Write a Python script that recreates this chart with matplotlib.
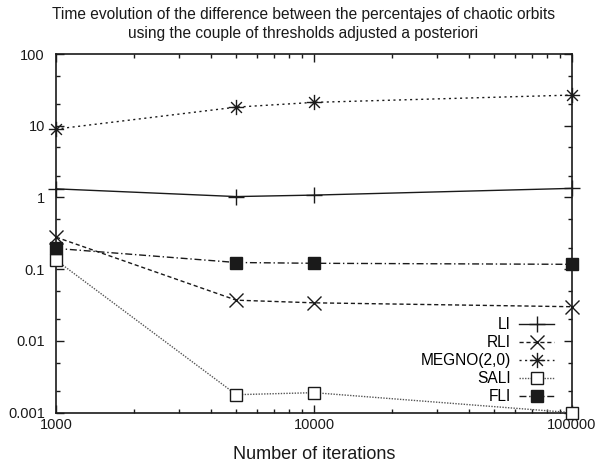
import numpy as np
import matplotlib
matplotlib.use("Agg")
import matplotlib.pyplot as plt
from matplotlib.path import Path
from matplotlib.ticker import FixedLocator, FixedFormatter, NullFormatter

plt.rcParams["font.family"] = ["Liberation Sans", "DejaVu Sans"]

iterations = [1000, 5000, 10000, 100000]
li = [1.32, 1.03, 1.08, 1.34]
rli = [0.28, 0.037, 0.034, 0.030]
megno = [9.0, 18.2, 21.2, 26.8]
sali = [0.134, 0.00178, 0.0019, 0.001]
fli = [0.195, 0.124, 0.121, 0.117]

x_ticks = [1000, 10000, 100000]
x_labels = ["1000", "10000", "100000"]
y_ticks = [0.001, 0.01, 0.1, 1, 10, 100]
y_labels = ["0.001", "0.01", "0.1", "1", "10", "100"]

title = ("Time evolution of the difference between the percentajes of chaotic orbits\n"
         "using the couple of thresholds adjusted a posteriori")

# asterisk marker: '+' and 'x' together, like gnuplot point type 3
d = np.sqrt(0.5)
star = Path([(-1, 0), (1, 0), (0, -1), (0, 1), (-d, -d), (d, d), (-d, d), (d, -d)],
            [Path.MOVETO, Path.LINETO] * 4)

fig = plt.figure(figsize=(6.07, 4.70), dpi=100)
ax = fig.add_axes([0.0923, 0.122, 0.85, 0.763])

c = "#1a1a1a"
kw = dict(clip_on=False, lw=1.0)
ax.plot(iterations, li, color=c, ls="-", marker="+", ms=12, mew=1.0, label="LI", **kw)
ax.plot(iterations, rli, color=c, ls=(0, (3, 2)), marker="x", ms=10, mew=1.0, label="RLI", **kw)
ax.plot(iterations, megno, color=c, ls=(0, (1.5, 2.5)), marker=star, ms=11, mew=1.0,
        label="MEGNO(2,0)", **kw)
ax.plot(iterations, sali, color="#555555", ls=(0, (1, 1)), marker="s", ms=9, mew=1.0,
        mfc="white", mec=c, label="SALI", **kw)
ax.plot(iterations, fli, color=c, ls=(0, (5, 2, 1, 2)), marker="s", ms=9,
        mfc=c, mec=c, label="FLI", **kw)

ax.set_xscale("log")
ax.set_yscale("log")
ax.set_xlim(1000, 100000)
ax.set_ylim(0.001, 100)

ax.xaxis.set_major_locator(FixedLocator(x_ticks))
ax.xaxis.set_major_formatter(FixedFormatter(x_labels))
ax.xaxis.set_minor_locator(FixedLocator([m * 10 ** e for e in range(3, 5) for m in range(2, 10)]))
ax.xaxis.set_minor_formatter(NullFormatter())
ax.yaxis.set_major_locator(FixedLocator(y_ticks))
ax.yaxis.set_major_formatter(FixedFormatter(y_labels))
ax.yaxis.set_minor_locator(FixedLocator([m * 10.0 ** e for e in range(-3, 2) for m in (2, 5)]))
ax.yaxis.set_minor_formatter(NullFormatter())

ax.tick_params(which="both", direction="in", top=True, right=True, labelsize=10.5, colors="#1a1a1a")
ax.tick_params(which="major", length=6, width=1.0)
ax.tick_params(which="minor", length=3, width=1.0)
ax.tick_params(axis="x", which="major", pad=4)
ax.tick_params(axis="y", which="major", pad=8)
for s in ax.spines.values():
    s.set_linewidth(1.2)
    s.set_color("#1a1a1a")
    s.set_zorder(1)

ax.set_xlabel("Number of iterations", fontsize=13, labelpad=10, color="#1a1a1a")
fig.suptitle(title, y=0.985, fontsize=11.2, linespacing=1.35, color="#1a1a1a")

ax.legend(loc="lower right", frameon=False, markerfirst=False, fontsize=11.2,
          handlelength=2.3, handletextpad=0.5, labelspacing=0.2,
          borderaxespad=0, borderpad=0.3, bbox_to_anchor=(0.975, 0.01))

fig.savefig("out.png", dpi=100)
